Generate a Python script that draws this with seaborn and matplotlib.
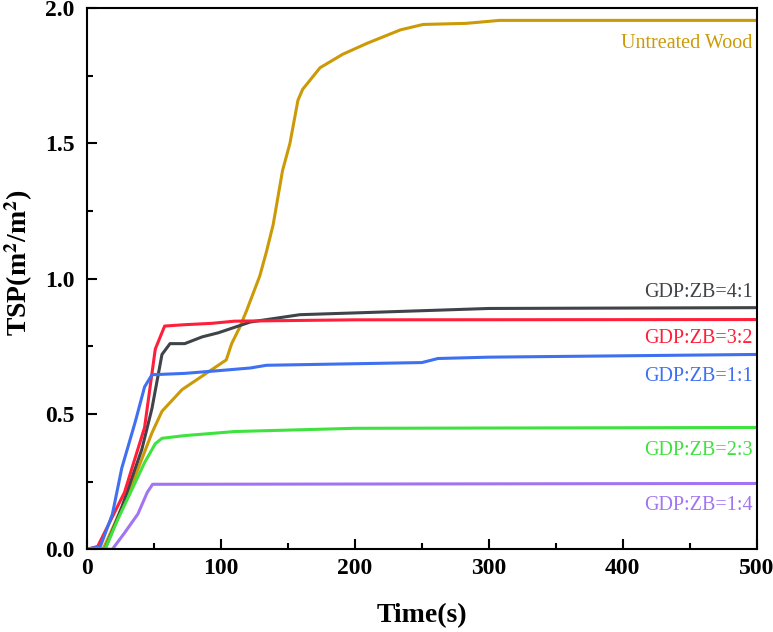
import numpy as np
import pandas as pd
import matplotlib
matplotlib.use("Agg")
import matplotlib.pyplot as plt
import seaborn as sns
from matplotlib.ticker import MultipleLocator

# values
wood_t = [0, 12, 23, 36, 48.5, 56, 71, 86, 98, 104, 108, 114, 119, 129, 134, 139, 146, 151.5,
          157.5, 161, 174, 191, 209, 234, 251, 283, 308, 500]
wood_v = [0, 0, 0.12, 0.27, 0.43, 0.51, 0.59, 0.64, 0.68, 0.70, 0.76, 0.82, 0.88, 1.01, 1.10, 1.20,
          1.40, 1.50, 1.66, 1.70, 1.78, 1.83, 1.87, 1.92, 1.94, 1.944, 1.955, 1.955]

r41_t = [0, 13.5, 26, 41, 48.5, 56, 62, 73, 86, 98, 110, 122, 159, 209, 258, 300, 500]
r41_v = [0, 0, 0.155, 0.37, 0.52, 0.72, 0.76, 0.76, 0.785, 0.80, 0.82, 0.84, 0.867, 0.875, 0.883, 0.89, 0.893]

r32_t = [0, 8, 19, 28, 43, 51, 58, 73, 93, 110, 200, 500]
r32_v = [0, 0.01, 0.12, 0.21, 0.45, 0.74, 0.825, 0.83, 0.835, 0.843, 0.848, 0.849]

r11_t = [0, 10, 19, 26, 36, 43, 48.5, 73, 98, 110, 122, 134, 250, 262, 300, 500]
r11_v = [0, 0.01, 0.13, 0.30, 0.47, 0.60, 0.645, 0.65, 0.66, 0.665, 0.67, 0.68, 0.69, 0.705, 0.71, 0.72]

r23_t = [0, 13.5, 23, 33.5, 43, 51, 56, 73, 98, 110, 200, 500]
r23_v = [0, 0, 0.11, 0.22, 0.32, 0.39, 0.41, 0.42, 0.43, 0.435, 0.447, 0.45]

r14_t = [0, 19, 28, 38, 45, 49, 500]
r14_v = [0, 0, 0.06, 0.13, 0.21, 0.24, 0.243]

labels = ["Untreated Wood", "GDP:ZB=4:1", "GDP:ZB=3:2", "GDP:ZB=1:1", "GDP:ZB=2:3", "GDP:ZB=1:4"]
label_y = [1.87, 0.95, 0.78, 0.64, 0.365, 0.16]
colors = ["#cc9a06", "#404448", "#ff1f3a", "#3e70f0", "#3fe23f", "#a175f2"]

series = [(wood_t, wood_v), (r41_t, r41_v), (r32_t, r32_v),
          (r11_t, r11_v), (r23_t, r23_v), (r14_t, r14_v)]
frames = []
for name, (t, v) in zip(labels, series):
    frames.append(pd.DataFrame({"time": t, "tsp": v, "sample": name}))
df = pd.concat(frames, ignore_index=True)

sns.set_style("ticks")
plt.rcParams["font.family"] = ["Liberation Serif", "DejaVu Serif"]
plt.rcParams["mathtext.fontset"] = "stix"
plt.rcParams["text.color"] = "black"
plt.rcParams["axes.labelcolor"] = "black"
plt.rcParams["xtick.color"] = "black"
plt.rcParams["ytick.color"] = "black"
plt.rcParams["axes.edgecolor"] = "black"

fig = plt.figure(figsize=(7.73, 6.32), dpi=100)
ax = fig.add_axes([0.1125, 0.131, 0.8665, 0.856])

sns.lineplot(data=df, x="time", y="tsp", hue="sample", palette=colors,
             hue_order=labels, linewidth=2.2, legend=False, ax=ax, sort=False)

for name, y, c in zip(labels, label_y, colors):
    ax.text(497, y, name, color=c, fontsize=14.5, ha="right", va="center")

ax.set_xlim(0, 500)
ax.set_ylim(0, 2.0)
ax.xaxis.set_major_locator(MultipleLocator(100))
ax.xaxis.set_minor_locator(MultipleLocator(50))
ax.yaxis.set_major_locator(MultipleLocator(0.5))
ax.yaxis.set_minor_locator(MultipleLocator(0.25))
ax.tick_params(which="both", direction="in", width=1.5, top=False, right=False)
ax.tick_params(which="major", length=7, labelsize=17)
ax.tick_params(axis="y", which="major", pad=9)
ax.tick_params(axis="x", which="major", pad=6)
ax.tick_params(which="minor", length=4)
for lab in ax.get_xticklabels() + ax.get_yticklabels():
    lab.set_fontweight("bold")
for sp in ax.spines.values():
    sp.set_linewidth(1.5)
    sp.set_visible(True)

ax.set_xlabel("Time(s)", fontsize=20, fontweight="bold", labelpad=18)
ax.set_ylabel(r"TSP(m$^{\mathbf{2}}$/m$^{\mathbf{2}}$)", fontsize=20, fontweight="bold")
ax.yaxis.set_label_coords(-0.078, 0.53)

fig.savefig("out.png", dpi=100)
